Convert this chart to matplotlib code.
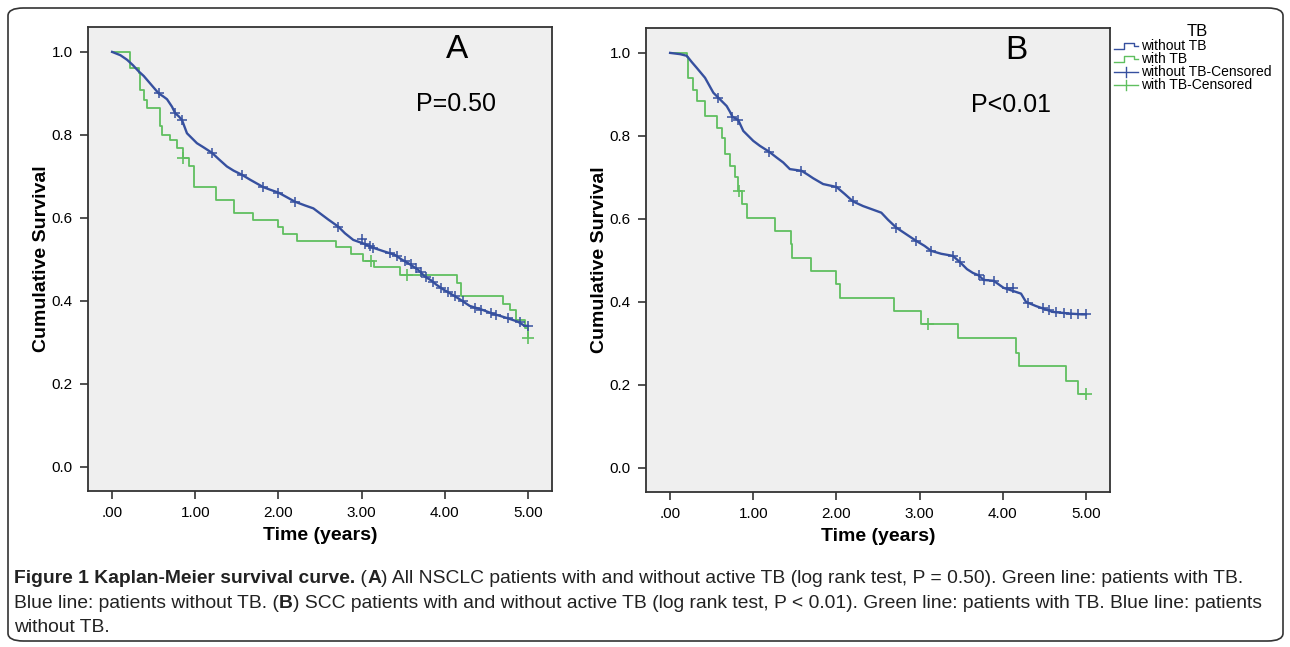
import matplotlib
matplotlib.use("Agg")
import matplotlib.pyplot as plt
from matplotlib.patches import FancyBboxPatch
from matplotlib.lines import Line2D

# ---- panel A: all NSCLC ----
a_no_t = [0, 0.10, 0.18, 0.25, 0.32, 0.38, 0.44, 0.50, 0.56, 0.62, 0.66, 0.72, 0.76, 0.80,
          0.84, 0.87, 0.90, 0.96, 1.02, 1.10, 1.20, 1.28, 1.38, 1.46, 1.56, 1.66, 1.74, 1.82,
          1.90, 2.00, 2.10, 2.20, 2.32, 2.42, 2.50, 2.60, 2.72, 2.80, 2.90, 3.04, 3.14, 3.26,
          3.40, 3.48, 3.56, 3.62, 3.68, 3.76, 3.84, 3.90, 3.98, 4.10, 4.18, 4.24, 4.30, 4.38,
          4.46, 4.58, 4.68, 4.76, 4.88, 4.96, 5.00]
a_no_s = [1.0, 0.992, 0.981, 0.968, 0.953, 0.942, 0.928, 0.914, 0.900, 0.892, 0.886, 0.868,
          0.852, 0.845, 0.836, 0.820, 0.804, 0.792, 0.780, 0.770, 0.757, 0.742, 0.724, 0.714,
          0.704, 0.692, 0.683, 0.674, 0.668, 0.661, 0.650, 0.639, 0.630, 0.623, 0.611, 0.596,
          0.579, 0.563, 0.547, 0.537, 0.528, 0.520, 0.511, 0.500, 0.491, 0.483, 0.475, 0.459,
          0.449, 0.439, 0.428, 0.414, 0.404, 0.396, 0.388, 0.383, 0.378, 0.369, 0.363, 0.358,
          0.350, 0.340, 0.340]
a_no_cens_t = [0.56, 0.76, 0.84, 1.20, 1.56, 1.82, 2.00, 2.20, 2.72, 3.00, 3.04, 3.10, 3.14,
               3.34, 3.42, 3.52, 3.60, 3.66, 3.72, 3.78, 3.86, 3.96, 4.04, 4.12, 4.22, 4.36,
               4.44, 4.56, 4.62, 4.76, 4.90, 5.00]
a_no_cens_s = [0.900, 0.852, 0.836, 0.757, 0.704, 0.674, 0.661, 0.639, 0.579, 0.550, 0.537,
               0.532, 0.528, 0.516, 0.509, 0.497, 0.488, 0.479, 0.469, 0.457, 0.446, 0.432,
               0.421, 0.412, 0.400, 0.384, 0.378, 0.370, 0.365, 0.358, 0.349, 0.340]

a_tb_t = [0, 0.21, 0.32, 0.33, 0.38, 0.42, 0.57, 0.60, 0.70, 0.78, 0.85, 0.92, 0.98, 1.25,
          1.46, 1.70, 2.00, 2.06, 2.22, 2.69, 2.87, 3.02, 3.15, 3.46, 4.15, 4.20, 4.70, 4.78,
          4.86, 4.96, 5.00]
a_tb_s = [1.0, 0.962, 0.948, 0.908, 0.884, 0.864, 0.822, 0.800, 0.788, 0.768, 0.745, 0.724,
          0.675, 0.642, 0.612, 0.594, 0.578, 0.561, 0.545, 0.529, 0.513, 0.497, 0.481, 0.463,
          0.442, 0.412, 0.393, 0.378, 0.355, 0.335, 0.310]
a_tb_cens_t = [0.85, 3.11, 3.55, 5.00]
a_tb_cens_s = [0.745, 0.497, 0.463, 0.310]

# ---- panel B: SCC ----
b_no_t = [0, 0.12, 0.20, 0.26, 0.32, 0.37, 0.42, 0.47, 0.52, 0.58, 0.63, 0.68, 0.72, 0.75,
          0.82, 0.88, 0.94, 1.00, 1.08, 1.19, 1.28, 1.36, 1.44, 1.58, 1.66, 1.72, 1.84, 2.00,
          2.10, 2.20, 2.32, 2.54, 2.62, 2.72, 2.84, 2.96, 3.06, 3.14, 3.26, 3.40, 3.49, 3.57,
          3.64, 3.71, 3.77, 3.89, 4.01, 4.22, 4.28, 4.40, 4.50, 4.60, 4.80, 4.95, 5.00]
b_no_s = [1.0, 0.997, 0.993, 0.978, 0.964, 0.952, 0.940, 0.922, 0.904, 0.892, 0.882, 0.872,
          0.858, 0.846, 0.838, 0.812, 0.800, 0.788, 0.776, 0.762, 0.748, 0.736, 0.720, 0.716,
          0.706, 0.698, 0.684, 0.677, 0.660, 0.642, 0.631, 0.615, 0.598, 0.579, 0.563, 0.547,
          0.535, 0.523, 0.516, 0.511, 0.495, 0.479, 0.470, 0.464, 0.453, 0.451, 0.434, 0.420,
          0.400, 0.390, 0.383, 0.376, 0.372, 0.370, 0.370]
b_no_cens_t = [0.58, 0.75, 0.82, 1.19, 1.58, 2.00, 2.20, 2.72, 2.96, 3.14, 3.40, 3.49, 3.71,
               3.77, 3.89, 4.05, 4.12, 4.30, 4.48, 4.56, 4.64, 4.74, 4.82, 4.90, 5.00]
b_no_cens_s = [0.892, 0.846, 0.838, 0.762, 0.716, 0.677, 0.642, 0.579, 0.547, 0.523, 0.511,
               0.495, 0.464, 0.453, 0.451, 0.434, 0.434, 0.398, 0.385, 0.380, 0.376, 0.374,
               0.372, 0.371, 0.370]

b_tb_t = [0, 0.20, 0.21, 0.27, 0.32, 0.42, 0.56, 0.62, 0.66, 0.72, 0.78, 0.82, 0.86, 0.92,
          1.26, 1.45, 1.47, 1.70, 2.00, 2.04, 2.69, 3.02, 3.46, 4.16, 4.20, 4.76, 4.90, 5.00]
b_tb_s = [1.0, 0.990, 0.940, 0.910, 0.883, 0.848, 0.820, 0.796, 0.756, 0.728, 0.700, 0.667,
          0.635, 0.603, 0.571, 0.539, 0.507, 0.475, 0.443, 0.410, 0.378, 0.346, 0.313, 0.278,
          0.245, 0.210, 0.178, 0.178]
b_tb_cens_t = [0.83, 3.10, 5.00]
b_tb_cens_s = [0.667, 0.346, 0.178]

x_ticks = [0, 1, 2, 3, 4, 5]
x_labels = [".00", "1.00", "2.00", "3.00", "4.00", "5.00"]
y_ticks = [0.0, 0.2, 0.4, 0.6, 0.8, 1.0]
y_labels = ["0.0", "0.2", "0.4", "0.6", "0.8", "1.0"]

legend_labels = ["without TB", "with TB", "without TB-Censored", "with TB-Censored"]

BLUE = "#36509f"
GREEN = "#5fbf5f"
W, H = 1290, 647
plt.rcParams['font.family'] = ['Liberation Sans', 'DejaVu Sans']

fig = plt.figure(figsize=(W / 100, H / 100), dpi=100)


def fx(x):
    return x / W


def fy(y):
    return 1 - y / H


def px_axes(left, top, right, bottom):
    return fig.add_axes([left / W, 1 - bottom / H, (right - left) / W, (bottom - top) / H])


def km_panel(ax, no_t, no_s, nct, ncs, tb_t, tb_s, tct, tcs, letter, ptxt, lx, px):
    ax.set_facecolor("#efefef")
    ax.step(tb_t, tb_s, where="post", color=GREEN, lw=1.3)
    # many tiny steps for the large group: drawn as a continuous trace
    ax.plot(no_t, no_s, color=BLUE, lw=1.7)
    ax.plot(tct, tcs, ls="none", marker="+", ms=8, mew=1.2, color=GREEN)
    ax.plot(nct, ncs, ls="none", marker="+", ms=7, mew=1.1, color=BLUE)
    ax.set_xlim(-0.29, 5.29)
    ax.set_ylim(-0.058, 1.06)
    ax.set_xticks(x_ticks)
    ax.set_xticklabels(x_labels, fontsize=11)
    ax.set_yticks(y_ticks)
    ax.set_yticklabels(y_labels, fontsize=11)
    ax.tick_params(length=6, width=1.2, color="#333333", pad=5)
    for sp in ax.spines.values():
        sp.set_linewidth(1.3)
        sp.set_color("#333333")
    ax.set_xlabel("Time (years)", fontsize=14, fontweight="bold", labelpad=5)
    ax.set_ylabel("Cumulative Survival", fontsize=14, fontweight="bold", labelpad=1)
    ax.text(lx, 1.005, letter, fontsize=24, ha="center", va="center")
    ax.text(px, 0.875, ptxt, fontsize=18, ha="center", va="center")


axA = px_axes(88, 27, 552, 491)
km_panel(axA, a_no_t, a_no_s, a_no_cens_t, a_no_cens_s,
         a_tb_t, a_tb_s, a_tb_cens_t, a_tb_cens_s, "A", "P=0.50", 4.15, 4.13)
axB = px_axes(646, 28, 1110, 492)
km_panel(axB, b_no_t, b_no_s, b_no_cens_t, b_no_cens_s,
         b_tb_t, b_tb_s, b_tb_cens_t, b_tb_cens_s, "B", "P<0.01", 4.17, 4.1)

# legend (outside panel B)
fig.text(fx(1197), fy(32), "TB", fontsize=12, ha="center", va="center")
leg_cols = [BLUE, GREEN, BLUE, GREEN]
leg_kind = ["step", "step", "cross", "cross"]
for i, (lab, col, kind) in enumerate(zip(legend_labels, leg_cols, leg_kind)):
    yy = 46 + 13 * i
    if kind == "step":
        xs = [1114, 1124, 1124, 1134, 1134, 1138]
        ys = [yy + 3, yy + 3, yy - 3, yy - 3, yy, yy]
        fig.add_artist(Line2D([fx(v) for v in xs], [fy(v) for v in ys], color=col, lw=1))
    else:
        fig.add_artist(Line2D([fx(1114), fx(1138)], [fy(yy), fy(yy)], color=col, lw=1))
        fig.add_artist(Line2D([fx(1126), fx(1126)], [fy(yy - 5), fy(yy + 5)], color=col, lw=1))
    fig.text(fx(1141), fy(yy), lab, fontsize=10, ha="left", va="center")

# caption, pieces chained left to right
cap_lines = [
    [("Figure 1 Kaplan-Meier survival curve.", True), (" (", False), ("A", True),
     (") All NSCLC patients with and without active TB (log rank test, P = 0.50). "
      "Green line: patients with TB.", False)],
    [("Blue line: patients without TB. (", False), ("B", True),
     (") SCC patients with and without active TB (log rank test, P < 0.01). "
      "Green line: patients with TB. Blue line: patients", False)],
    [("without TB.", False)],
]
r = fig.canvas.get_renderer()
for i, line in enumerate(cap_lines):
    x_px = 14
    yb = 583 + 24.5 * i
    for txt, bold in line:
        t = fig.text(fx(x_px), fy(yb), txt, fontsize=13.9, color="#222222",
                     fontweight="bold" if bold else "normal", va="baseline", ha="left")
        x_px += t.get_window_extent(renderer=r).width

frame = FancyBboxPatch((fx(8), fy(641)), fx(1275), 633 / H,
                       boxstyle="round,pad=0,rounding_size=0.012",
                       transform=fig.transFigure, fill=False, ec="#333333", lw=1.2)
fig.add_artist(frame)

fig.savefig("out.png", dpi=100, facecolor="white")
